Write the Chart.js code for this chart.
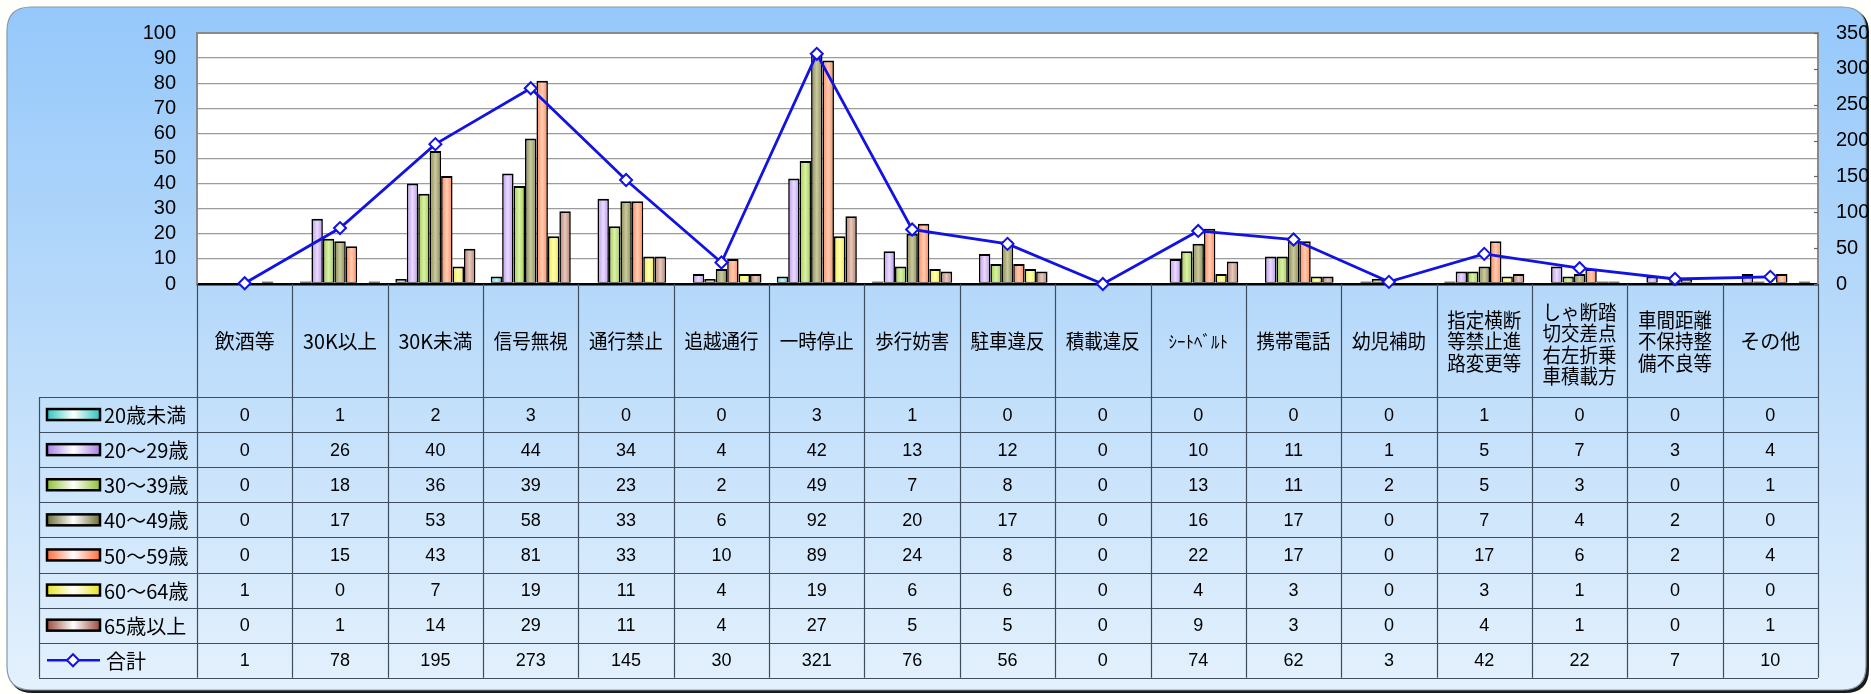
<!DOCTYPE html>
<html><head><meta charset="utf-8">
<script src="https://cdn.jsdelivr.net/npm/chart.js@4.4.0/dist/chart.umd.min.js"></script>
<style>html,body{margin:0;padding:0;background:#fff;overflow:hidden}#wrap{width:1871px;height:694px;position:relative}</style>
</head><body><div id="wrap"><canvas id="c" width="1871" height="694"></canvas></div>
<script>
// ---------- data ----------
const categories = ['飲酒等','30K以上','30K未満','信号無視','通行禁止','追越通行','一時停止','歩行妨害','駐車違反','積載違反','ｼｰﾄﾍﾞﾙﾄ','携帯電話','幼児補助',['指定横断','等禁止進','路変更等'],['しゃ断踏','切交差点','右左折乗','車積載方'],['車間距離','不保持整','備不良等'],'その他'];
const seriesNames = ['20歳未満','20～29歳','30～39歳','40～49歳','50～59歳','60～64歳','65歳以上'];
const age_u20   = [0,1,2,3,0,0,3,1,0,0,0,0,0,1,0,0,0];
const age_20s   = [0,26,40,44,34,4,42,13,12,0,10,11,1,5,7,3,4];
const age_30s   = [0,18,36,39,23,2,49,7,8,0,13,11,2,5,3,0,1];
const age_40s   = [0,17,53,58,33,6,92,20,17,0,16,17,0,7,4,2,0];
const age_50s   = [0,15,43,81,33,10,89,24,8,0,22,17,0,17,6,2,4];
const age_60_64 = [1,0,7,19,11,4,19,6,6,0,4,3,0,3,1,0,0];
const age_65up  = [0,1,14,29,11,4,27,5,5,0,9,3,0,4,1,0,1];
const totalName = '合計';
const total     = [1,78,195,273,145,30,321,76,56,0,74,62,3,42,22,7,10];
const leftAxis  = {min:0, max:100, step:10};
const rightAxis = {min:0, max:350, step:50};
const seriesValues = [age_u20, age_20s, age_30s, age_40s, age_50s, age_60_64, age_65up];

// ---------- styles ----------
const edgeCols   = ['#40d0d0','#b894ec','#9ccc44','#86864e','#ff8656','#eeea40','#b27a6a'];
const centerCols = ['#c4f8f8','#eadcff','#dcf0ac','#cacaa0','#ffcdb4','#ffffb4','#e6cabe'];
const keyEdge    = ['#2ec4c4','#a880e4','#8fc030','#6e6e38','#ff6e3c','#e8e420','#9c4c3c'];
const JP = '"Noto Sans CJK JP", sans-serif';
const NUM = '"Liberation Sans", Arial, sans-serif';
const LINE_COL = '#1212e4';

function hGrad(ctx, x0, x1, e, c){
  const g = ctx.createLinearGradient(x0,0,x1,0);
  g.addColorStop(0,e); g.addColorStop(0.5,c); g.addColorStop(1,e);
  return g;
}
function rr(ctx,x,y,w,h,r){
  ctx.beginPath();
  ctx.moveTo(x+r,y); ctx.lineTo(x+w-r,y); ctx.quadraticCurveTo(x+w,y,x+w,y+r);
  ctx.lineTo(x+w,y+h-r); ctx.quadraticCurveTo(x+w,y+h,x+w-r,y+h);
  ctx.lineTo(x+r,y+h); ctx.quadraticCurveTo(x,y+h,x,y+h-r);
  ctx.lineTo(x,y+r); ctx.quadraticCurveTo(x,y,x+r,y); ctx.closePath();
}

const frame = {
  id:'frame',
  beforeDraw(chart){
    const ctx = chart.ctx; const ca = chart.chartArea;
    ctx.save();
    ctx.fillStyle = '#fffffb'; ctx.fillRect(0,0,chart.width,chart.height);
    rr(ctx,9,9,1860,684,24); ctx.fillStyle = '#1a1a1a'; ctx.fill();
    const g = ctx.createLinearGradient(0,7,0,690);
    g.addColorStop(0,'#95c8fb'); g.addColorStop(0.45,'#b8dafa'); g.addColorStop(1,'#e4f1fd');
    rr(ctx,7,7,1859,683,24); ctx.fillStyle = g; ctx.fill();
    ctx.lineWidth = 1.2; ctx.strokeStyle = '#8898a8'; ctx.stroke();
    ctx.fillStyle = '#ffffff'; ctx.fillRect(ca.left, ca.top, ca.right-ca.left, ca.bottom-ca.top);
    ctx.restore();
  },
  beforeDatasetsDraw(chart){
    const ctx = chart.ctx;
    chart.data.datasets.forEach((ds,di)=>{
      if (ds.type === 'line') return;
      const meta = chart.getDatasetMeta(di);
      meta.data.forEach(el=>{
        const p = el.getProps(['x','width'], true);
        el.options = Object.assign({}, el.options, {backgroundColor: hGrad(ctx, p.x-p.width/2, p.x+p.width/2, edgeCols[di-1], centerCols[di-1])});
      });
    });
  },
  afterDraw(chart){
    const ctx = chart.ctx; const ca = chart.chartArea; const xs = chart.scales.x; const y2 = chart.scales.y2;
    const n = categories.length;
    const catW = (ca.right - ca.left)/n;
    const headTop = ca.bottom, headBot = 397, rowH = 35.1, nRows = 8;
    const tableBot = headBot + rowH*nRows;
    const legL = 39;
    ctx.save();
    // small inner tick marks of the right axis
    ctx.strokeStyle = '#666'; ctx.lineWidth = 1.2;
    y2.ticks.forEach(t=>{
      const y = Math.round(y2.getPixelForValue(t.value))+0.5;
      ctx.beginPath(); ctx.moveTo(ca.right-4, y); ctx.lineTo(ca.right, y); ctx.stroke();
    });
    ctx.strokeStyle = '#3e4e5e'; ctx.lineWidth = 1.2;
    for (let i=0;i<=n;i++){
      const x = Math.round(ca.left + i*catW)+0.5;
      ctx.beginPath(); ctx.moveTo(x, headTop); ctx.lineTo(x, tableBot); ctx.stroke();
    }
    ctx.beginPath(); ctx.moveTo(legL+0.5, headBot); ctx.lineTo(legL+0.5, tableBot); ctx.stroke();
    for (let r=0;r<=nRows;r++){
      const y = Math.round(headBot + r*rowH)+0.5;
      ctx.beginPath(); ctx.moveTo(legL, y); ctx.lineTo(ca.right, y); ctx.stroke();
    }
    // header texts
    ctx.fillStyle = '#000'; ctx.textAlign = 'center'; ctx.textBaseline = 'middle';
    ctx.font = '20px ' + JP;
    const hc = (headTop + headBot)/2 + 1;
    categories.forEach((c,i)=>{
      const x = xs.getPixelForValue(i);
      const lines = Array.isArray(c) ? c : [c];
      const lh = 21.5;
      lines.forEach((t,k)=>{
        const y = hc + (k - (lines.length-1)/2)*lh + (lines.length===4?3:0);
        if (t === 'ｼｰﾄﾍﾞﾙﾄ') { ctx.save(); ctx.font = '17px ' + JP; ctx.fillText(t, x, y); ctx.restore(); }
        else ctx.fillText(t, x, y, 74);
      });
    });
    // rows
    const rows = seriesValues.concat([total]);
    const names = seriesNames.concat([totalName]);
    rows.forEach((vals,r)=>{
      const yc = headBot + r*rowH + rowH/2;
      ctx.font = '18px ' + NUM; ctx.fillStyle = '#000'; ctx.textAlign = 'center';
      vals.forEach((v,i)=>{ ctx.fillText(String(v), xs.getPixelForValue(i), yc+1); });
      if (r < 7){
        ctx.fillStyle = hGrad(ctx, 47, 100, keyEdge[r], '#ffffff');
        ctx.fillRect(47, yc-5.5, 53, 11);
        ctx.lineWidth = 2.5; ctx.strokeStyle = '#000'; ctx.strokeRect(47, yc-5.5, 53, 11);
      } else {
        ctx.strokeStyle = LINE_COL; ctx.lineWidth = 2.5;
        ctx.beginPath(); ctx.moveTo(47, yc); ctx.lineTo(100, yc); ctx.stroke();
        ctx.beginPath(); ctx.moveTo(67, yc); ctx.lineTo(73, yc-6); ctx.lineTo(79, yc); ctx.lineTo(73, yc+6); ctx.closePath();
        ctx.fillStyle = '#fff'; ctx.fill(); ctx.lineWidth = 2; ctx.stroke();
      }
      ctx.fillStyle = '#000'; ctx.textAlign = 'left'; ctx.font = '20px ' + JP;
      ctx.fillText(names[r], r < 7 ? 104 : 106, yc+1);
    });
    ctx.restore();
  }
};

const datasets = [{
  type:'line', label: totalName, data: total, yAxisID:'y2', order:0,
  borderColor: LINE_COL, borderWidth: 2.8, tension: 0, clip: false,
  pointStyle:'rectRot', pointRadius: 6, pointBorderWidth: 2,
  pointBackgroundColor:'#ffffff', pointBorderColor: LINE_COL
}];
seriesValues.forEach((vals,i)=>{
  datasets.push({
    type:'bar', label: seriesNames[i], data: vals, yAxisID:'y', order:1,
    backgroundColor: centerCols[i], borderColor:'#000',
    borderWidth:{top:2,left:1.6,right:1.6,bottom:1}, borderSkipped:false,
    categoryPercentage:0.84, barPercentage:1.0
  });
});

new Chart(document.getElementById('c'), {
  data: { labels: categories.map(c => Array.isArray(c) ? c.join('') : c), datasets },
  options: {
    responsive:false, animation:false, devicePixelRatio:1,
    layout:{ padding:{ left:0, right:0, top:28, bottom:410 } },
    plugins:{ legend:{display:false}, tooltip:{enabled:false} },
    scales:{
      x:{ display:false },
      y:{ position:'left', min:leftAxis.min, max:leftAxis.max,
          afterFit(s){ s.width = 197; },
          ticks:{ stepSize:leftAxis.step, autoSkip:false, padding:21, color:'#000', font:{family:NUM, size:20} },
          grid:{ drawTicks:false,
                 color:(c)=> c.tick && c.tick.value===0 ? '#000' : (c.tick && c.tick.value===100 ? '#8a8a8a' : '#9c9c9c'),
                 lineWidth:(c)=> c.tick && (c.tick.value===0) ? 2.5 : (c.tick && c.tick.value===100 ? 2 : 1.3) },
          border:{ display:true, color:'#8a8a8a', width:2 } },
      y2:{ position:'right', min:rightAxis.min, max:rightAxis.max,
           afterFit(s){ s.width = 53; },
           ticks:{ stepSize:rightAxis.step, autoSkip:false, padding:18, color:'#000', font:{family:NUM, size:20} },
           grid:{ display:false, drawTicks:false },
           border:{ display:true, color:'#8a8a8a', width:2 } }
    }
  },
  plugins:[frame]
});
</script></body></html>
